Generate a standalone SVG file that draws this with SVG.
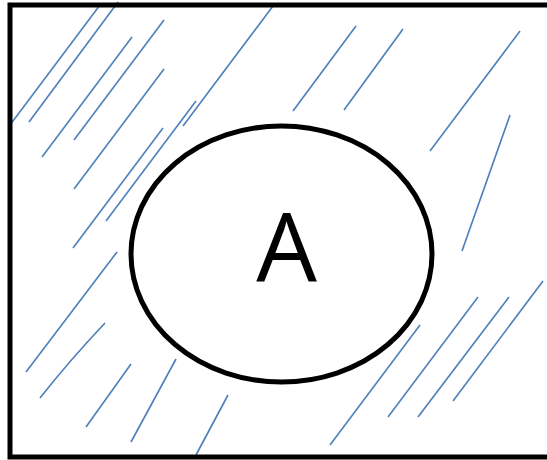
<svg xmlns="http://www.w3.org/2000/svg" width="547" height="460" viewBox="0 0 547 460">
<style>
.h{stroke:#4a7ebb;stroke-width:1.6;fill:none;stroke-linecap:butt}
.k{stroke:#000;stroke-width:5;fill:none}
</style>
<rect width="547" height="460" fill="#fff"/>
<g id="hatch">
<line class="h" x1="10" y1="125" x2="100" y2="5"/>
<line class="h" x1="29" y1="122" x2="118" y2="2"/>
<line class="h" x1="42" y1="157" x2="132" y2="37"/>
<line class="h" x1="74" y1="140" x2="164" y2="20"/>
<line class="h" x1="74" y1="189" x2="164" y2="69"/>
<line class="h" x1="73" y1="248" x2="163" y2="128"/>
<line class="h" x1="106" y1="221" x2="196" y2="101"/>
<line class="h" x1="183" y1="126" x2="273" y2="6"/>
<line class="h" x1="26" y1="372" x2="117" y2="252"/>
<path class="h" d="M40 398 Q70 360 105 323"/>
<line class="h" x1="86" y1="427" x2="131" y2="364"/>
<line class="h" x1="131" y1="442" x2="176" y2="359"/>
<line class="h" x1="196" y1="455" x2="228" y2="395"/>
<line class="h" x1="293" y1="111" x2="356" y2="26"/>
<line class="h" x1="344" y1="110" x2="403" y2="29"/>
<line class="h" x1="430" y1="151" x2="520" y2="31"/>
<line class="h" x1="462" y1="251" x2="510" y2="115"/>
<line class="h" x1="330" y1="445" x2="420" y2="325"/>
<line class="h" x1="388" y1="417" x2="478" y2="297"/>
<line class="h" x1="418" y1="417" x2="509" y2="297"/>
<line class="h" x1="453" y1="401" x2="543" y2="281"/>
</g>
<g id="universe">
<rect class="k" x="10" y="5" width="545" height="452"/>
</g>
<g id="setA">
<ellipse class="k" cx="281.5" cy="254" rx="150.5" ry="128" fill="#fff"/>
<text x="286.5" y="282" font-family="Open Sans, Noto Sans, sans-serif" font-size="96" text-anchor="middle" fill="#000">A</text>
</g>
</svg>
